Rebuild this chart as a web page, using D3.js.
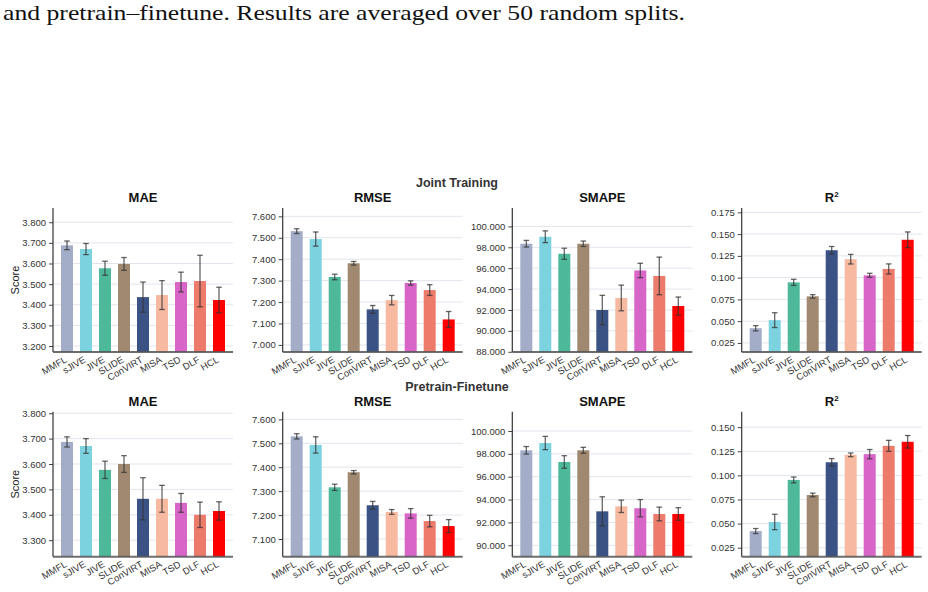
<!DOCTYPE html>
<html>
<head>
<meta charset="utf-8">
<script src="https://cdn.jsdelivr.net/npm/d3@7"></script>
<style>
  html, body { margin: 0; padding: 0; background: #fff; }
  svg { display: block; }
</style>
</head>
<body>
<svg id="chart" width="928" height="592"></svg>
<script>
// ---------- DATA ----------
const categories = ["MMFL", "sJIVE", "JIVE", "SLIDE", "ConVIRT", "MISA", "TSD", "DLF", "HCL"];

const jointMAE      = [3.688, 3.670, 3.577, 3.598, 3.437, 3.447, 3.510, 3.515, 3.423];
const jointMAEErr   = [0.021, 0.027, 0.034, 0.031, 0.073, 0.070, 0.048, 0.125, 0.062];
const jointRMSE     = [7.531, 7.494, 7.317, 7.381, 7.166, 7.209, 7.289, 7.256, 7.119];
const jointRMSEErr  = [0.011, 0.033, 0.013, 0.0085, 0.018, 0.022, 0.010, 0.025, 0.037];
const jointSMAPE    = [98.34, 99.01, 97.38, 98.34, 92.00, 93.15, 95.78, 95.26, 92.38];
const jointSMAPEErr = [0.32, 0.56, 0.53, 0.26, 1.40, 1.23, 0.69, 1.80, 0.86];
const jointR2       = [0.0419, 0.0512, 0.0946, 0.0785, 0.1315, 0.1212, 0.1027, 0.1100, 0.1435];
const jointR2Err    = [0.0030, 0.0085, 0.0035, 0.0020, 0.0043, 0.0055, 0.0023, 0.0058, 0.0090];

const preMAE        = [3.687, 3.671, 3.577, 3.600, 3.463, 3.463, 3.447, 3.400, 3.415];
const preMAEErr     = [0.020, 0.029, 0.034, 0.033, 0.083, 0.053, 0.037, 0.050, 0.036];
const preRMSE       = [7.529, 7.493, 7.316, 7.379, 7.241, 7.213, 7.207, 7.175, 7.154];
const preRMSEErr    = [0.011, 0.034, 0.013, 0.007, 0.016, 0.010, 0.020, 0.024, 0.027];
const preSMAPE      = [98.31, 98.95, 97.29, 98.31, 92.97, 93.41, 93.24, 92.74, 92.74];
const preSMAPEErr   = [0.33, 0.58, 0.55, 0.26, 1.27, 0.54, 0.76, 0.60, 0.55];
const preR2         = [0.0423, 0.0517, 0.0953, 0.0797, 0.1136, 0.1213, 0.1220, 0.1306, 0.1348];
const preR2Err      = [0.0026, 0.0080, 0.0030, 0.0019, 0.0038, 0.0019, 0.0048, 0.0057, 0.0065];

const metricTitles = ["MAE", "RMSE", "SMAPE", "R²"];
const groupTitles  = ["Joint Training", "Pretrain-Finetune"];

const yDomains = [
  [[3.171, 3.869], [6.967, 7.639], [87.98, 101.76], [0.0146, 0.180]],
  [[3.235, 3.806], [7.026, 7.632], [89.0, 101.69], [0.0157, 0.166]]
];
const yTicks = [
  [[3.2, 3.3, 3.4, 3.5, 3.6, 3.7, 3.8], [7.0, 7.1, 7.2, 7.3, 7.4, 7.5, 7.6],
   [88, 90, 92, 94, 96, 98, 100], [0.025, 0.05, 0.075, 0.1, 0.125, 0.15, 0.175]],
  [[3.3, 3.4, 3.5, 3.6, 3.7, 3.8], [7.1, 7.2, 7.3, 7.4, 7.5, 7.6],
   [90, 92, 94, 96, 98, 100], [0.025, 0.05, 0.075, 0.1, 0.125, 0.15]]
];

const values = [[jointMAE, jointRMSE, jointSMAPE, jointR2], [preMAE, preRMSE, preSMAPE, preR2]];
const errors = [[jointMAEErr, jointRMSEErr, jointSMAPEErr, jointR2Err], [preMAEErr, preRMSEErr, preSMAPEErr, preR2Err]];

const captionText = "and pretrain\u2013finetune. Results are averaged over 50 random splits.";

// ---------- STYLE / LAYOUT ----------
const colors = ["#a3adc8", "#7dd2e0", "#4db99a", "#a08970", "#3b5285", "#f7b9a0", "#d865c8", "#ed7b6b", "#ff0000"];
const colX = [53, 282.7, 512.3, 741.7];
const panelW = 180;
const rowTop = [208, 411.7];
const rowBottom = [352, 556.7];
const barW = 12;

const svg = d3.select("#chart");
const FONT = "'Liberation Sans', Arial, Helvetica, sans-serif";

// caption
svg.append("text")
  .attr("x", 3).attr("y", 19.5)
  .attr("font-family", "'Liberation Serif', 'DejaVu Serif', serif")
  .attr("font-size", 22)
  .attr("fill", "#111")
  .attr("textLength", 682)
  .attr("lengthAdjust", "spacingAndGlyphs")
  .text(captionText);

// group titles
const groupY = [187, 391];
groupTitles.forEach((t, r) => {
  svg.append("text")
    .attr("x", 457).attr("y", groupY[r])
    .attr("text-anchor", "middle")
    .attr("font-family", FONT).attr("font-size", 12.5).attr("font-weight", "bold")
    .attr("fill", "#333")
    .text(t);
});

for (let r = 0; r < 2; r++) {
  for (let c = 0; c < 4; c++) {
    const x0 = colX[c], top = rowTop[r], bottom = rowBottom[r];
    const g = svg.append("g");
    const x = d3.scalePoint().domain(categories).range([x0, x0 + panelW]).padding(0.737);
    const y = d3.scaleLinear().domain(yDomains[r][c]).range([bottom, top]);
    const vals = values[r][c], errs = errors[r][c];
    const fmt = d3.format(".3f");

    // grid
    g.append("g").selectAll("line").data(yTicks[r][c]).join("line")
      .attr("x1", x0).attr("x2", x0 + panelW)
      .attr("y1", d => y(d)).attr("y2", d => y(d))
      .attr("stroke", "#e2e5ed").attr("stroke-width", 1);

    // y axis
    const ya = g.append("g").attr("transform", `translate(${x0},0)`)
      .call(d3.axisLeft(y).tickValues(yTicks[r][c]).tickFormat(fmt).tickSize(4).tickPadding(3));
    ya.select(".domain").remove();
    ya.selectAll(".tick line").attr("stroke", "#444").attr("stroke-width", 1);
    ya.selectAll(".tick text").attr("font-family", FONT).attr("font-size", 9.5).attr("fill", "#333");

    // bars
    g.append("g").selectAll("rect").data(categories).join("rect")
      .attr("x", d => x(d) - barW / 2)
      .attr("width", barW)
      .attr("y", (d, i) => y(vals[i]))
      .attr("height", (d, i) => bottom - y(vals[i]))
      .attr("fill", (d, i) => colors[i]);

    // error bars
    const eb = g.append("g").attr("stroke", "#333").attr("stroke-opacity", 0.75).attr("stroke-width", 1.3);
    categories.forEach((d, i) => {
      const cx = x(d), yHi = y(vals[i] + errs[i]), yLo = y(vals[i] - errs[i]);
      eb.append("line").attr("x1", cx).attr("x2", cx).attr("y1", yHi).attr("y2", yLo);
      eb.append("line").attr("x1", cx - 2.8).attr("x2", cx + 2.8).attr("y1", yHi).attr("y2", yHi);
      eb.append("line").attr("x1", cx - 2.8).attr("x2", cx + 2.8).attr("y1", yLo).attr("y2", yLo);
    });

    // spines
    g.append("line").attr("x1", x0).attr("x2", x0).attr("y1", top).attr("y2", bottom)
      .attr("stroke", "#333").attr("stroke-width", 1.2);
    g.append("line").attr("x1", x0).attr("x2", x0 + panelW).attr("y1", bottom).attr("y2", bottom)
      .attr("stroke", "#555").attr("stroke-opacity", 0.85).attr("stroke-width", 2);

    // x labels
    g.append("g").selectAll("text").data(categories).join("text")
      .attr("transform", d => `translate(${x(d) + 0.5},${bottom + 9.5}) rotate(-30)`)
      .attr("text-anchor", "end")
      .attr("font-family", FONT).attr("font-size", 9.5).attr("fill", "#333")
      .text(d => d);

    // title
    const tt = g.append("text")
      .attr("x", x0 + panelW / 2).attr("y", top - 6)
      .attr("text-anchor", "middle")
      .attr("font-family", FONT).attr("font-size", 13).attr("font-weight", "bold").attr("fill", "#111");
    if (c === 3) {
      tt.append("tspan").text("R");
      tt.append("tspan").attr("font-size", 8).attr("dy", -5).text("2");
    } else {
      tt.text(metricTitles[c]);
    }

    // y label
    if (c === 0) {
      svg.append("text")
        .attr("transform", `translate(19,${(top + bottom) / 2}) rotate(-90)`)
        .attr("text-anchor", "middle")
        .attr("font-family", FONT).attr("font-size", 11).attr("fill", "#222")
        .text("Score");
    }
  }
}
</script>
</body>
</html>
